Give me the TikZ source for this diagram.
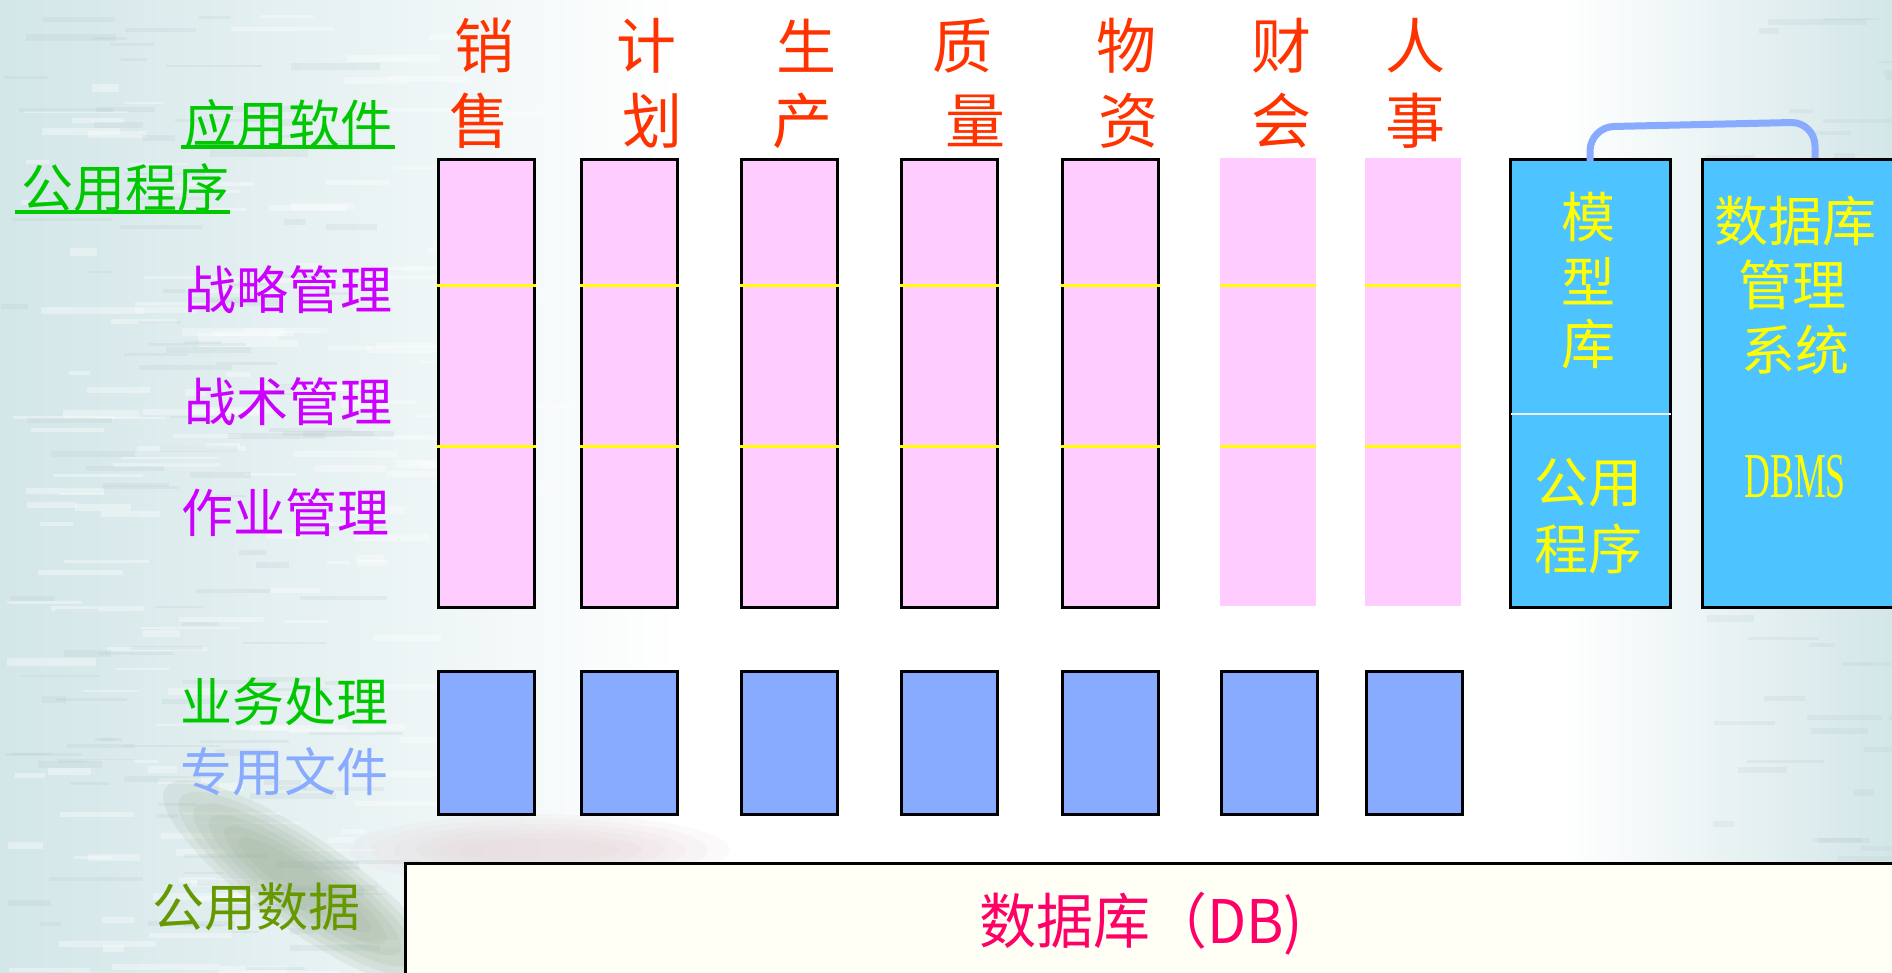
\documentclass[tikz,border=0pt]{standalone}
\usepackage{fontspec}
\newfontfamily\cjk{Noto Sans CJK SC}
\newfontfamily\latinserif{Liberation Serif}
\usetikzlibrary{calc}
\newcommand\myfs[1]{\fontsize{#1}{#1}\selectfont}
\definecolor{bgc}{HTML}{D3E6E8}
\definecolor{bgm}{HTML}{E8F2F3}
\definecolor{streak}{HTML}{B4C6CA}
\definecolor{brushc}{HTML}{9AAE94}
\definecolor{hazec}{HTML}{E2CDD2}
\definecolor{pinkc}{HTML}{FFCCFF}
\definecolor{fileblue}{HTML}{88AAFF}
\definecolor{skyblue}{HTML}{4DC3FF}
\definecolor{topred}{HTML}{FF3300}
\definecolor{labgreen}{HTML}{00C800}
\definecolor{labpurple}{HTML}{CC00FF}
\definecolor{labolive}{HTML}{669900}
\definecolor{dbtext}{HTML}{FF0066}
\definecolor{dbfill}{HTML}{FFFFF5}
\definecolor{ylw}{HTML}{FFFF00}
\begin{document}
\begin{tikzpicture}[x=1pt,y=-1pt,
  pinkcol/.style={fill=pinkc, draw=black, line width=3pt, minimum width=96pt, minimum height=448pt, anchor=north west, inner sep=0pt},
  pinkcolnb/.style={fill=pinkc, minimum width=96pt, minimum height=448pt, anchor=north west, inner sep=0pt},
  filebox/.style={fill=fileblue, draw=black, line width=3pt, minimum width=96pt, minimum height=143pt, anchor=north west, inner sep=0pt},
  bluebox/.style={fill=skyblue, draw=black, line width=3pt, minimum height=448pt, anchor=north west, inner sep=0pt},
  yline/.style={draw=ylw, line width=3pt},
  toplab/.style={font=\cjk\myfs{60}, text=topred, inner sep=0pt},
  sidelab/.style={font=\cjk\myfs{52}, inner sep=0pt, anchor=east},
  boxlab/.style={font=\cjk\myfs{54}, text=ylw, inner sep=0pt},
  bracketline/.style={draw=fileblue, line width=7pt, rounded corners=24pt}
]
\clip (0,0) rectangle (1892,973);
\useasboundingbox (0,0) rectangle (1892,973);
% ---------- background ----------
\fill[white] (0,0) rectangle (1892,973);
\shade[left color=bgc, right color=bgm] (0,0) rectangle (340,973);
\shade[left color=bgm, right color=white] (340,0) rectangle (680,973);
\shade[left color=white, right color=bgc] (1560,0) rectangle (1892,973);
\pgfmathsetseed{5}
\foreach \k in {1,...,170}{
  \pgfmathsetmacro{\sx}{rnd*480}
  \pgfmathsetmacro{\sy}{rnd*973}
  \pgfmathsetmacro{\sl}{20+rnd*90}
  \pgfmathsetmacro{\sw}{2+rnd*6}
  \fill[white, opacity=0.35] (\sx,\sy) rectangle ++(\sl,\sw);
}
\foreach \k in {1,...,120}{
  \pgfmathsetmacro{\sx}{rnd*330}
  \pgfmathsetmacro{\sy}{rnd*973}
  \pgfmathsetmacro{\sl}{20+rnd*80}
  \pgfmathsetmacro{\sw}{2+rnd*5}
  \fill[streak, opacity=0.2] (\sx,\sy) rectangle ++(\sl,\sw);
}
\foreach \k in {1,...,90}{
  \pgfmathsetmacro{\sx}{1700+rnd*192}
  \pgfmathsetmacro{\sy}{rnd*973}
  \pgfmathsetmacro{\sl}{20+rnd*80}
  \pgfmathsetmacro{\sw}{2+rnd*5}
  \fill[streak, opacity=0.18] (\sx,\sy) rectangle ++(\sl,\sw);
}
\foreach \r in {0,...,5}{
  \fill[hazec, opacity=0.11] (540,850) ellipse [x radius={190-\r*22}, y radius={36-\r*5}];
}
\foreach \r in {0,...,5}{
  \fill[brushc, opacity=0.15] (305,885) ellipse [x radius={170-\r*18}, y radius={46-\r*6}, rotate=-35];
}
% ---------- application columns ----------
\foreach \i/\x in {1/437,2/580,3/740,4/900,5/1061}{
  \node[pinkcol] (c\i) at (\x,158) {};
}
\foreach \i/\x in {6/1220,7/1365}{
  \node[pinkcolnb] (c\i) at (\x,158) {};
}
\foreach \i in {1,...,7}{
  \draw[yline] ($(c\i.north west)+(0,128)$) -- ($(c\i.north east)+(0,128)$);
  \draw[yline] ($(c\i.north west)+(0,288)$) -- ($(c\i.north east)+(0,288)$);
}
% ---------- private file boxes ----------
\foreach \i/\x in {1/437,2/580,3/740,4/900,5/1061,6/1220,7/1365}{
  \node[filebox] (f\i) at (\x,670) {};
}
% ---------- model base / DBMS ----------
\node[bluebox, minimum width=160pt] (mb) at (1509,158) {};
\draw[white!93!black, line width=2.5pt] ($(mb.north west)+(1.5,256)$) -- ($(mb.north east)+(-1.5,256)$);
\node[bluebox, minimum width=220pt] (dbms) at (1701,158) {};
\coordinate (b1) at ($(mb.north west)+(81,3)$);
\coordinate (b2) at ($(dbms.north west)+(114,0)$);
\draw[bracketline] (b1) -- ($(b1)+(0,-34)$) -- ($(b2)+(0,-36)$) -- (b2);
% ---------- database ----------
\node[fill=dbfill, draw=black, line width=3pt, minimum width=1520pt, minimum height=130pt, anchor=north west, inner sep=0pt] (dbb) at (404,862) {};
\node[font=\cjk\myfs{60}, text=dbtext, inner sep=0pt] (dbt) at (1141,924) {\scalebox{0.95}[1]{数据库（DB)}};
% ---------- top labels ----------
\node[toplab] (t1a) at (484,46) {销};  \node[toplab] (t1b) at (479,121) {售};
\node[toplab] (t2a) at (646,46) {计};  \node[toplab] (t2b) at (652,121) {划};
\node[toplab] (t3a) at (806,46) {生};  \node[toplab] (t3b) at (802,121) {产};
\node[toplab] (t4a) at (962,46) {质};  \node[toplab] (t4b) at (975,121) {量};
\node[toplab] (t5a) at (1126,46) {物}; \node[toplab] (t5b) at (1128,121) {资};
\node[toplab] (t6a) at (1281,46) {财}; \node[toplab] (t6b) at (1281,121) {会};
\node[toplab] (t7a) at (1415,46) {人}; \node[toplab] (t7b) at (1415,121) {事};
% ---------- side labels ----------
\node[sidelab, text=labgreen] (l1) at (393,124) {应用软件};
\draw[labgreen, line width=3.5pt] (181,147) -- (395,147);
\node[sidelab, text=labgreen] (l2) at (230,188) {公用程序};
\draw[labgreen, line width=3.5pt] (15,212) -- (230,212);
\node[sidelab, text=labpurple] (l3) at (393,290) {战略管理};
\node[sidelab, text=labpurple] (l4) at (393,402) {战术管理};
\node[sidelab, text=labpurple] (l5) at (390,513) {作业管理};
\node[sidelab, text=labgreen] (l6) at (389,702) {业务处理};
\node[sidelab, text=fileblue] (l7) at (389,772) {专用文件};
\node[sidelab, text=labolive] (l8) at (361,907) {公用数据};
% ---------- blue box labels ----------
\node[boxlab] (m1) at (1588,217) {模};
\node[boxlab] (m2) at (1588,281) {型};
\node[boxlab] (m3) at (1588,344) {库};
\node[boxlab] (p1) at (1588,483) {公用};
\node[boxlab] (p2) at (1588,549) {程序};
\node[boxlab] (d1) at (1795,221) {数据库};
\node[boxlab] (d2) at (1792,285) {管理};
\node[boxlab] (d3) at (1795,350) {系统};
\node[font=\latinserif\myfs{64}, text=ylw, inner sep=0pt] (d4) at (1795,477) {\scalebox{0.56}[1]{DBMS}};
\end{tikzpicture}
\end{document}
